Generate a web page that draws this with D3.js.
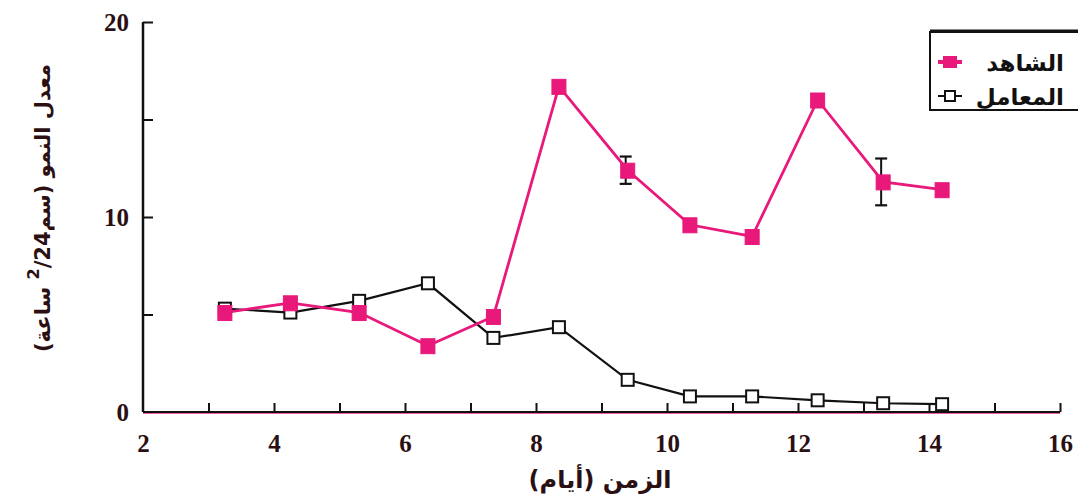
<!DOCTYPE html>
<html><head><meta charset="utf-8">
<script src="https://cdn.jsdelivr.net/npm/d3@7"></script>
<style>body{margin:0;background:#fff}svg{display:block}</style>
</head><body>
<svg id="c" width="1078" height="502"></svg>
<script>
// data
const days = [3.25, 4.25, 5.3, 6.35, 7.35, 8.35, 9.4, 10.35, 11.3, 12.3, 13.3, 14.2];
const controlVals = [5.1, 5.6, 5.1, 3.4, 4.9, 16.7, 12.4, 9.6, 9.0, 16.0, 11.8, 11.4];
const treatedVals = [5.3, 5.1, 5.7, 6.6, 3.8, 4.35, 1.65, 0.8, 0.8, 0.6, 0.45, 0.4];
const controlErr = [0, 0, 0, 0, 0, 0, 0.7, 0, 0, 0, 1.2, 0];
const xTickLabels = [2, 4, 6, 8, 10, 12, 14, 16];
const yTickLabels = [0, 10, 20];
const seriesNames = ["الشاهد", "المعامل"];

const pink = "#e8197a", ink = "#111", textCol = "#2a1012";
const svg = d3.select("#c");
const x = d3.scaleLinear().domain([2, 16]).range([143, 1060]);
const y = d3.scaleLinear().domain([0, 20]).range([412, 22]);

// pink baseline under x axis
svg.append("line").attr("x1", x(2)).attr("x2", x(16)).attr("y1", y(0) + 1.5).attr("y2", y(0) + 1.5)
  .attr("stroke", pink).attr("stroke-width", 1).attr("opacity", 0.7);

// x axis
const xAxis = d3.axisBottom(x).tickValues(d3.range(2, 17, 1)).tickSize(-9)
  .tickFormat(d => xTickLabels.includes(d) ? d : "");
const gx = svg.append("g").attr("transform", `translate(0,${y(0)})`).call(xAxis);
gx.select(".domain").attr("stroke", ink).attr("stroke-width", 2).attr("d", `M${x(2)},0H${x(16)}`);
gx.selectAll(".tick line").attr("stroke", ink).attr("stroke-width", 2)
  .filter(d => d === 2).remove();
gx.selectAll(".tick text").attr("y", 22).attr("dy", "0.71em")
  .style("font-family", "Liberation Serif, serif").style("font-weight", "bold")
  .style("font-size", "25px").attr("fill", textCol);

// y axis
const yAxis = d3.axisLeft(y).tickValues([0, 5, 10, 15, 20]).tickSize(-10)
  .tickFormat(d => yTickLabels.includes(d) ? d : "");
const gy = svg.append("g").attr("transform", `translate(${x(2)},0)`).call(yAxis);
gy.select(".domain").attr("stroke", ink).attr("stroke-width", 2.5).attr("d", `M0,${y(0)}V${y(20)}`);
gy.selectAll(".tick line").attr("stroke", ink).attr("stroke-width", 2).filter(d => d === 0).remove();
gy.selectAll(".tick text").attr("x", -14)
  .style("font-family", "Liberation Serif, serif").style("font-weight", "bold")
  .style("font-size", "25px").attr("fill", textCol);

const line = d3.line().x(d => x(d[0])).y(d => y(d[1]));
const tData = days.map((d, i) => [d, treatedVals[i]]);
const cData = days.map((d, i) => [d, controlVals[i]]);

// treated line
svg.append("path").datum(tData).attr("d", line).attr("fill", "none")
  .attr("stroke", ink).attr("stroke-width", 2.2);
// control line
svg.append("path").datum(cData).attr("d", line).attr("fill", "none")
  .attr("stroke", pink).attr("stroke-width", 2.8);

// error bars
const eb = svg.append("g");
days.forEach((d, i) => {
  if (!controlErr[i]) return;
  const cx = x(d) - 2, top = y(controlVals[i] + controlErr[i]), bot = y(controlVals[i] - controlErr[i]);
  eb.append("line").attr("x1", cx).attr("x2", cx).attr("y1", top).attr("y2", bot).attr("stroke", ink).attr("stroke-width", 2);
  [top, bot].forEach(yy => eb.append("line").attr("x1", cx - 6).attr("x2", cx + 6).attr("y1", yy).attr("y2", yy)
    .attr("stroke", ink).attr("stroke-width", 2.2));
});

// treated markers
svg.append("g").selectAll("rect").data(tData).join("rect")
  .attr("x", d => x(d[0]) - 6).attr("y", d => y(d[1]) - 6).attr("width", 12).attr("height", 12)
  .attr("fill", "#fff").attr("stroke", ink).attr("stroke-width", 2);
// control markers
svg.append("g").selectAll("rect").data(cData).join("rect")
  .attr("x", d => x(d[0]) - 7).attr("y", d => y(d[1]) - 7).attr("width", 14).attr("height", 15)
  .attr("fill", pink).attr("stroke", pink).attr("stroke-width", 1);

// legend
const lg = svg.append("g");
lg.append("rect").attr("x", 930).attr("y", 32).attr("width", 160).attr("height", 78)
  .attr("fill", "#fff").attr("stroke", ink).attr("stroke-width", 2);
lg.append("line").attr("x1", 930).attr("x2", 1078).attr("y1", 31).attr("y2", 31).attr("stroke", ink).attr("stroke-width", 3);
lg.append("line").attr("x1", 938).attr("x2", 962).attr("y1", 62).attr("y2", 62).attr("stroke", pink).attr("stroke-width", 4);
lg.append("rect").attr("x", 943).attr("y", 56).attr("width", 14).attr("height", 12).attr("fill", pink);
lg.append("line").attr("x1", 938).attr("x2", 962).attr("y1", 96).attr("y2", 96).attr("stroke", ink).attr("stroke-width", 2);
lg.append("rect").attr("x", 945).attr("y", 91).attr("width", 10).attr("height", 10).attr("fill", "#fff").attr("stroke", ink).attr("stroke-width", 2);
lg.selectAll("text").data(seriesNames).join("text")
  .attr("x", 1064).attr("y", (d, i) => 71 + i * 34).attr("text-anchor", "end")
  .style("font-family", "DejaVu Sans, sans-serif").style("font-weight", "bold").style("font-size", "23px")
  .attr("fill", ink).text(d => d);

// axis titles
svg.append("text").attr("x", 600).attr("y", 488).attr("text-anchor", "middle")
  .style("font-family", "DejaVu Sans, sans-serif").style("font-weight", "bold").style("font-size", "24px")
  .attr("fill", textCol).attr("direction", "rtl").text("الزمن (أيام)");

const yl = svg.append("text").attr("transform", "translate(50,208) rotate(-90)").attr("text-anchor", "middle")
  .style("font-family", "DejaVu Sans, sans-serif").style("font-weight", "bold").style("font-size", "21px")
  .attr("fill", textCol).attr("direction", "rtl");
yl.append("tspan").text("معدل النمو (سم");
yl.append("tspan").attr("dy", -11).style("font-size", "16px").text("2");
yl.append("tspan").attr("dy", 11).text("/24 ساعة)");
</script>
</body></html>
